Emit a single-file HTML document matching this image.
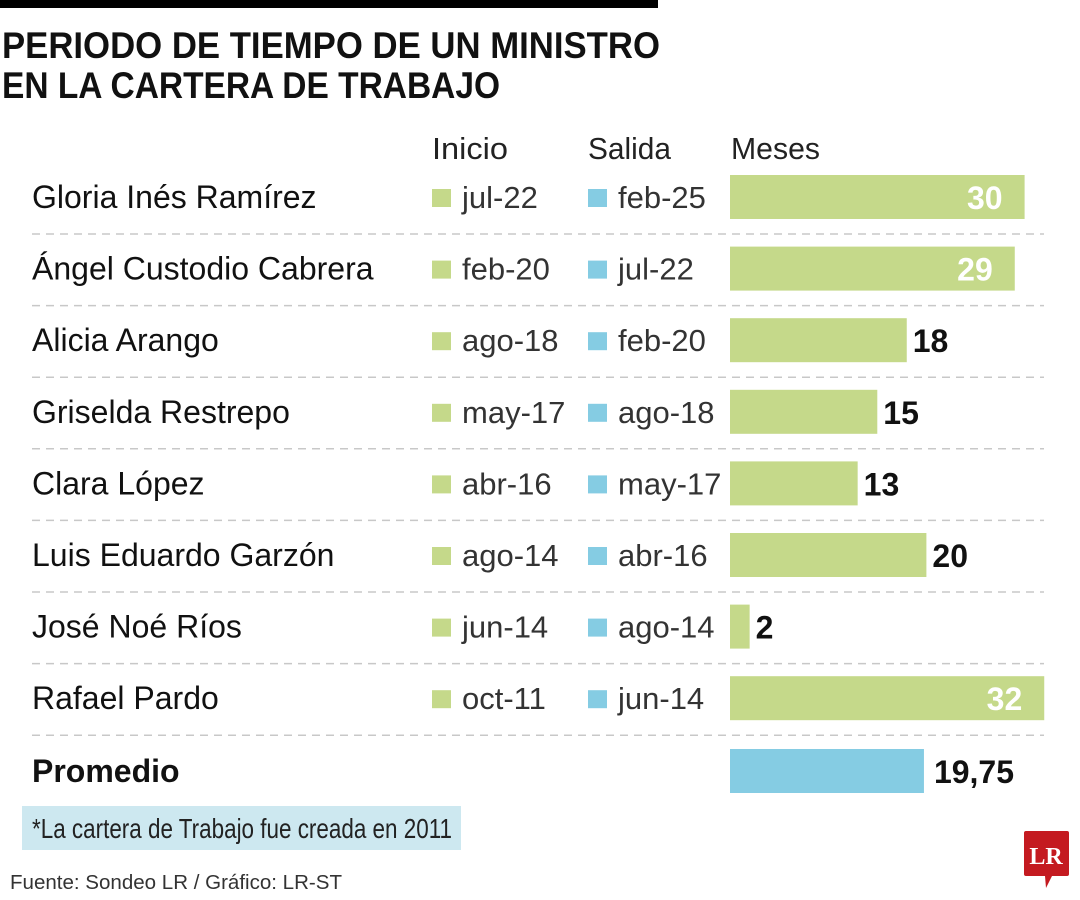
<!DOCTYPE html>
<html><head><meta charset="utf-8"><style>
html,body{margin:0;padding:0;background:#fff;}
svg{display:block;font-family:"Liberation Sans",sans-serif;}
</style></head><body>
<svg id="chart" width="1080" height="900" viewBox="0 0 1080 900" xmlns="http://www.w3.org/2000/svg">
<rect x="0" y="0" width="658" height="8" fill="#000"/>
<text x="2" y="58" font-size="37" font-weight="bold" textLength="658" lengthAdjust="spacingAndGlyphs" fill="#111">PERIODO DE TIEMPO DE UN MINISTRO</text>
<text x="2" y="98" font-size="37" font-weight="bold" textLength="498" lengthAdjust="spacingAndGlyphs" fill="#111">EN LA CARTERA DE TRABAJO</text>
<text x="432" y="159" font-size="31" textLength="76" lengthAdjust="spacingAndGlyphs" fill="#222">Inicio</text>
<text x="588" y="159" font-size="31" textLength="83" lengthAdjust="spacingAndGlyphs" fill="#222">Salida</text>
<text x="731" y="159" font-size="31" textLength="89" lengthAdjust="spacingAndGlyphs" fill="#222">Meses</text>
<g id="rows"></g>
<rect x="22" y="806" width="439" height="44" fill="#cde8f0"/>
<text x="32" y="838" font-size="28" textLength="420" lengthAdjust="spacingAndGlyphs" fill="#222">*La cartera de Trabajo fue creada en 2011</text>
<text x="10" y="889" font-size="20" textLength="332" lengthAdjust="spacingAndGlyphs" fill="#333">Fuente: Sondeo LR / Gráfico: LR-ST</text>
<g>
<path d="M1026 831 H1067 Q1069 831 1069 833 V874 Q1069 876 1067 876 H1052 L1046 888 L1045 876 H1026 Q1024 876 1024 874 V833 Q1024 831 1026 831 Z" fill="#c41a20"/>
<text x="1046" y="864" font-size="24" font-weight="bold" font-family="Liberation Serif,serif" fill="#fff" text-anchor="middle">LR</text>
</g>
</svg>
<script>
const names=["Gloria Inés Ramírez","Ángel Custodio Cabrera","Alicia Arango","Griselda Restrepo","Clara López","Luis Eduardo Garzón","José Noé Ríos","Rafael Pardo"];
const inicio=["jul-22","feb-20","ago-18","may-17","abr-16","ago-14","jun-14","oct-11"];
const salida=["feb-25","jul-22","feb-20","ago-18","may-17","abr-16","ago-14","jun-14"];
const meses=[30,29,18,15,13,20,2,32];
const promedio=19.75;
const promedioLabel="19,75";
const NS="http://www.w3.org/2000/svg";
const g=document.getElementById('rows');
const x0=730, pxPer=9.82;
function xs(v){return x0+v*pxPer;}
function yc(i){return 197+i*71.6;}
function mk(tag,attrs,txt){const e=document.createElementNS(NS,tag);for(const k in attrs)e.setAttribute(k,attrs[k]);if(txt!==undefined)e.textContent=txt;g.appendChild(e);return e;}
function txt(t,x,y,size,weight,fill,anchor){
  return mk('text',{x:x,y:y,'font-size':size,'font-weight':weight||'normal',fill:fill,'text-anchor':anchor||'start'},t);}
names.forEach((n,i)=>{
  const y=yc(i);
  let e=txt(n,32,y+11,32,'normal','#111');
  
  
  e=mk('rect',{x:432,y:y-8,width:19,height:18,fill:'#c5d98a'});
  
  
  e=txt(inicio[i],462,y+11,31,'normal','#333');
  
  
  e=mk('rect',{x:588,y:y-8,width:19,height:18,fill:'#85cce3'});
  
  
  e=txt(salida[i],618,y+11,31,'normal','#333');
  
  
  e=mk('rect',{x:x0,y:y-22,width:xs(meses[i])-x0,height:44,fill:'#c5d98a'});
  
  
  const inside=meses[i]>=25;
  e=inside?txt(String(meses[i]),xs(meses[i])-22,y+12,32,'bold','#fff','end'):txt(String(meses[i]),xs(meses[i])+6,y+12,32,'bold','#111','start');
  
  
  e=mk('line',{x1:32,x2:1044,y1:y+37,y2:y+37,stroke:'#c8c8c8','stroke-width':1.5,'stroke-dasharray':'8 6'});
  
  
});
const py=771;
let e=txt('Promedio',32,py+11,32,'bold','#111');


e=mk('rect',{x:x0,y:py-22,width:xs(promedio)-x0,height:44,fill:'#85cce3'});


e=txt(promedioLabel,xs(promedio)+10,py+12,32,'bold','#111');


</script>
</body></html>
